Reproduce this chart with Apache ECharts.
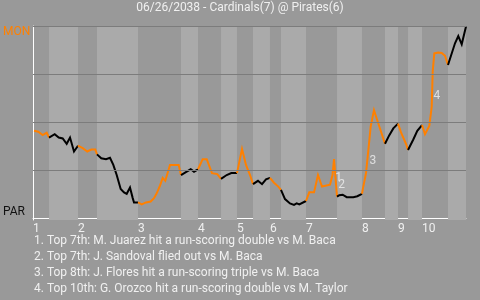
<!DOCTYPE html>
<html>
<head>
<meta charset="utf-8">
<script src="https://cdn.jsdelivr.net/npm/echarts@6/dist/echarts.min.js"></script>
<style>
html,body{margin:0;padding:0;background:#999999;}
#c{width:480px;height:300px;}
</style>
</head>
<body>
<div id="c"></div>
<script>
// ---- data ----
const titleText = '06/26/2038 - Cardinals(7) @ Pirates(6)';
const topLabel = 'MON';
const bottomLabel = 'PAR';

// game progress (0-100) of each play
const progress = [
  0.23, 1.22, 2.24, 3.16,
  3.70, 5.01, 5.94, 6.86, 7.78, 8.55, 9.47,
  10.39, 11.48, 12.54, 13.46, 14.39,
  14.78, 15.77, 16.86, 17.78, 18.55, 19.33, 20.25, 21.02, 21.64, 22.40, 23.03, 23.33,
  24.25, 25.10, 26.10, 27.18, 27.94, 28.57, 29.33, 29.95, 30.55, 31.64, 33.65,
  34.18, 35.50, 36.42, 37.18,
  38.11, 39.19, 40.12, 41.34, 42.56,
  43.42, 44.73, 45.80,
  47.11, 48.27, 49.19, 50.12,
  50.81, 51.96, 52.89, 53.81,
  54.73, 55.66, 56.65,
  57.27, 58.20, 59.35, 60.28, 60.90, 61.50, 61.96,
  63.05, 63.81, 64.90, 65.82, 66.74, 68.59, 69.17, 69.52,
  70.21, 70.74, 71.52, 72.45, 73.97, 74.90,
  75.98, 76.28, 76.91, 77.53, 77.99, 78.75, 79.98,
  81.29, 82.29, 83.21,
  84.30, 85.06, 86.14,
  86.61, 87.83, 88.75,
  89.84, 90.53, 91.52, 92.08, 92.31, 92.68, 93.60, 94.39, 95.15,
  95.84, 97.46, 98.22, 99.01, 99.38, 100
];
// value of each play on the PAR (0) .. MON (4) scale
const values = [
  1.82, 1.80, 1.73, 1.78,
  1.68, 1.75, 1.68, 1.66, 1.55, 1.68, 1.39,
  1.51, 1.46, 1.39, 1.43, 1.43,
  1.33, 1.25, 1.23, 1.26, 1.11, 0.90, 0.61, 0.54, 0.51, 0.64, 0.42, 0.33,
  0.33, 0.29, 0.33, 0.35, 0.42, 0.52, 0.68, 0.84, 0.78, 1.11, 1.11,
  0.90, 0.97, 1.02, 0.97,
  1.02, 1.23, 1.23, 0.94, 0.92,
  0.82, 0.90, 0.94,
  0.94, 1.44, 1.11, 0.90,
  0.71, 0.78, 0.71, 0.81,
  0.84, 0.74, 0.66,
  0.59, 0.40, 0.31, 0.28, 0.31, 0.29, 0.33,
  0.36, 0.54, 0.54, 0.90, 0.66, 0.70, 0.90, 1.23,
  0.45, 0.48, 0.49, 0.44, 0.44, 0.46,
  0.51, 0.66, 0.94, 1.49, 1.91, 2.25, 1.91,
  1.55, 1.73, 1.87,
  1.97, 1.77, 1.55,
  1.42, 1.64, 1.82,
  1.94, 1.75, 1.92, 2.32, 3.05, 3.43, 3.45, 3.44, 3.38,
  3.19, 3.64, 3.79, 3.62, 3.60, 3.99
];
// start of each half-inning (top 1, bottom 1, top 2, ...)
const halfStarts = [0, 3.70, 10.39, 14.78, 24.25, 34.18, 38.11, 43.42, 47.11, 50.81,
  54.73, 57.27, 63.05, 70.21, 75.98, 81.29, 84.30, 86.61, 89.84, 95.84];
const gameEnd = 100;
const innings = ['1','2','3','4','5','6','7','8','9','10'];

// annotated plays
const noteMarks = ['1', '2', '3', '4'];
const noteX = [70.60, 71.30, 78.52, 93.30];
const noteY = [0.84, 0.69, 1.19, 2.54];
const notes = [
  '1. Top 7th: M. Juarez hit a run-scoring double vs M. Baca',
  '2. Top 7th: J. Sandoval flied out vs M. Baca',
  '3. Top 8th: J. Flores hit a run-scoring triple vs M. Baca',
  '4. Top 10th: G. Orozco hit a run-scoring double vs M. Taylor'
];
const gridValues = [1, 2, 3, 4];

// ---- build chart ----
const ORANGE = '#ff8000', BLACK = '#000000', TXT = '#f0f0f0', FONT = 'Roboto';

function halfOf(x) {
  let h = 0;
  for (let i = 0; i < halfStarts.length; i++) if (x >= halfStarts[i] - 1e-6) h = i;
  return h;
}

const series = [];
// background bands (bottom halves lighter) + grid lines
const bands = [];
for (let h = 1; h < halfStarts.length; h += 2) {
  const end = h + 1 < halfStarts.length ? halfStarts[h + 1] : gameEnd;
  bands.push([{ xAxis: halfStarts[h] }, { xAxis: end }]);
}
series.push({
  type: 'line', data: [], silent: true, z: 1,
  markArea: { silent: true, itemStyle: { color: '#aaaaaa' }, data: bands },
  markLine: {
    silent: true, symbol: 'none', label: { show: false },
    lineStyle: { color: '#7c7c7c', width: 1, type: 'solid' },
    data: gridValues.map(v => ({ yAxis: v }))
  }
});

// colored line runs
let runStart = 0;
for (let i = 0; i < progress.length - 1; i++) {
  const c = halfOf(progress[i]) % 2;
  const nextC = i + 1 < progress.length - 1 ? halfOf(progress[i + 1]) % 2 : -1;
  if (nextC !== c) {
    const pts = [];
    for (let j = runStart; j <= i + 1; j++) pts.push([progress[j], values[j]]);
    series.push({
      type: 'line', data: pts, showSymbol: false, symbol: 'none', z: 3, silent: true,
      lineStyle: { color: c === 0 ? ORANGE : BLACK, width: 2, join: 'miter' },
      animation: false
    });
    runStart = i + 1;
  }
}

// annotation numbers, one series each so none gets hidden
noteMarks.forEach((m, i) => {
  series.push({
    type: 'scatter', symbol: 'circle', symbolSize: 1, z: 5, silent: true,
    itemStyle: { color: 'rgba(0,0,0,0)' },
    labelLayout: { hideOverlap: false },
    data: [{ value: [noteX[i], noteY[i]], name: m }],
    label: {
      show: true, position: 'inside', formatter: m,
      color: TXT, fontSize: 12, fontFamily: FONT
    }
  });
});

const inningValues = halfStarts.filter((v, i) => i % 2 === 0);

const option = {
  animation: false,
  backgroundColor: '#999999',
  title: [
    { text: titleText, left: 'center', top: 2, padding: 0,
      textStyle: { color: TXT, fontSize: 12, fontWeight: 'normal', fontFamily: FONT } },
    { text: notes.join('\n'), left: 34, top: 233, padding: 0,
      textStyle: { color: TXT, fontSize: 12, fontWeight: 'normal', fontFamily: FONT, lineHeight: 16 } }
  ],
  graphic: [
    { type: 'text', left: 3, top: 26, style: { text: topLabel, fill: ORANGE, font: '12px Roboto' } },
    { type: 'text', left: 3, top: 206, style: { text: bottomLabel, fill: '#111111', font: '12px Roboto' } }
  ],
  grid: { left: 33, right: 14, top: 26, bottom: 80 },
  xAxis: {
    type: 'value', min: 0, max: gameEnd,
    axisLine: { show: true, lineStyle: { color: '#ffffff', width: 1 } },
    axisTick: { show: false },
    splitLine: { show: false },
    axisLabel: {
      show: true, customValues: inningValues, align: 'left', margin: 3,
      color: TXT, fontSize: 12, fontFamily: FONT,
      formatter: v => innings[inningValues.indexOf(v)]
    }
  },
  yAxis: {
    type: 'value', min: -0.035, max: 4,
    axisLine: { show: true, lineStyle: { color: '#ffffff', width: 1 } },
    axisTick: { show: false }, axisLabel: { show: false }, splitLine: { show: false }
  },
  series: series
};

const chart = echarts.init(document.getElementById('c'), null, { renderer: 'canvas' });
chart.setOption(option);
</script>
</body>
</html>
